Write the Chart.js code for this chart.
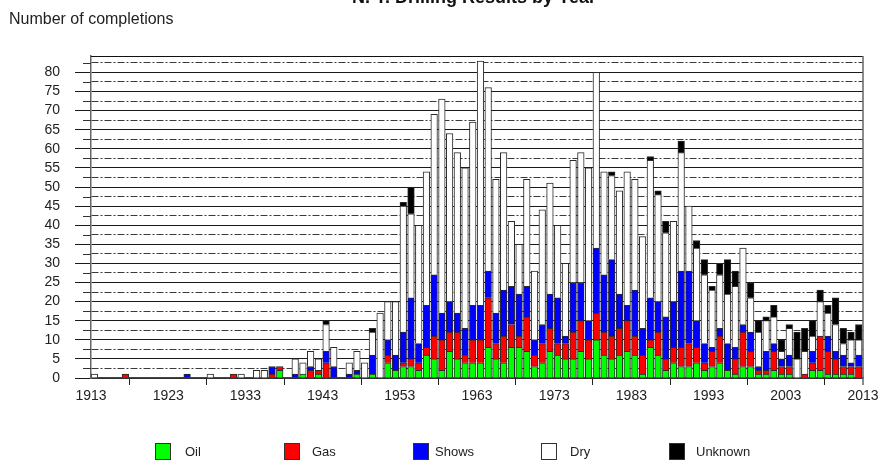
<!DOCTYPE html>
<html><head><meta charset="utf-8">
<script src="https://cdn.jsdelivr.net/npm/chart.js@4/dist/chart.umd.min.js"></script>
<style>html,body{margin:0;padding:0;background:#fff;}canvas{display:block;}</style>
</head><body>
<canvas id="c" width="885" height="469"></canvas>
<script>
const TITLE = "N. Y. Drilling Results by Year";
const Y_AXIS_TITLE = "Number of completions";
const seriesNames = ["Oil", "Gas", "Shows", "Dry", "Unknown"];
const seriesColors = ["#00ff00", "#ff0000", "#0000ff", "#ffffff", "#000000"];

const years = [1913,1917,1925,1928,1931,1932,1934,1935,1936,1937,1939,1940,1941,1942,1943,1944,1946,1947,1948,1949,1950,1951,
  1952,1953,1954,1955,1956,1957,1958,1959,1960,1961,
  1962,1963,1964,1965,1966,1967,1968,1969,1970,1971,
  1972,1973,1974,1975,1976,1977,1978,1979,1980,1981,
  1982,1983,1984,1985,1986,1987,1988,1989,1990,1991,
  1992,1993,1994,1995,1996,1997,1998,1999,2000,2001,
  2002,2003,2004,2005,2006,2007,2008,2009,2010,2011,
  2012];

const oil = [0,0,0,0,0,0,0,0,0,2,0,1,0,1,0,0,0,1,0,1,0,4,
  2,3,3,2,6,5,2,7,5,4,
  4,4,8,5,4,8,8,7,3,4,
  7,6,5,5,7,5,10,6,5,6,
  7,6,1,8,6,2,4,3,3,4,
  2,3,4,2,1,3,3,1,1,2,
  1,1,0,0,2,2,1,1,1,1,
  0];
const gas = [0,1,0,0,1,0,0,0,1,1,0,0,2,1,4,0,0,0,0,0,0,2,
  0,1,2,2,2,6,8,5,7,2,
  6,6,13,4,7,6,3,9,3,5,
  6,3,4,7,8,5,7,6,6,7,
  8,5,5,2,6,3,4,5,6,4,
  2,4,7,0,4,9,4,1,1,5,
  2,2,0,1,2,9,6,4,2,2,
  3];
const shows = [0,0,1,0,0,0,0,0,2,0,1,0,1,0,3,3,1,1,0,5,0,4,
  4,8,16,5,11,16,7,8,5,7,
  9,9,7,8,12,10,11,8,4,5,
  9,12,2,13,10,5,17,15,20,9,
  4,12,7,11,8,11,12,20,19,7,
  5,1,2,7,3,2,5,1,5,2,
  2,3,0,0,3,0,4,2,3,1,
  3];
const dry = [1,0,0,1,0,1,2,2,0,0,4,3,4,3,7,5,3,5,4,6,17,10,
  14,33,22,31,35,42,56,44,42,42,
  48,64,48,35,36,17,13,28,18,30,
  29,19,19,32,34,40,46,27,22,27,
  35,29,24,36,28,22,21,31,17,19,
  18,15,14,13,16,20,9,9,8,7,
  2,7,5,6,4,9,6,7,3,6,
  4];
const unknown = [0,0,0,0,0,0,0,0,0,0,0,0,0,0,1,0,0,0,0,1,0,0,
  0,1,7,0,0,0,0,0,0,0,
  0,0,0,0,0,0,0,0,0,0,
  0,0,0,0,0,0,0,0,1,0,
  0,0,0,1,1,3,0,3,0,2,
  4,1,3,9,4,0,4,3,1,3,
  3,1,7,6,4,3,2,7,4,2,
  4];

const xTicks = [1913,1923,1933,1943,1953,1963,1973,1983,1993,2003,2013];
const yMajorTicks = [0,5,10,15,20,25,30,35,40,45,50,55,60,65,70,75,80];
const yMinorTicks = [2.5,7.5,12.5,17.5,22.5,27.5,32.5,37.5,42.5,47.5,52.5,57.5,62.5,67.5,72.5,77.5,82.5];

const FONT = '"Liberation Sans", Arial, Helvetica, sans-serif';
const seriesValues = [oil, gas, shows, dry, unknown];
const BAR_SHIFT = 0.45; // bars sit just right of each year's tick

const datasets = seriesNames.map((name, i) => ({
  label: name,
  data: years.map((yr, j) => ({ x: yr + BAR_SHIFT, y: seriesValues[i][j] ? seriesValues[i][j] : null })),
  backgroundColor: seriesColors[i],
  borderColor: '#2a2a2a',
  borderWidth: 1,
  barThickness: 6.6,
  stack: 'all'
}));

const allY = yMajorTicks.concat(yMinorTicks).sort((a, b) => a - b);
const isMajor = v => Math.abs(v % 5) < 1e-9;

const decor = {
  id: 'decor',
  beforeDatasetsDraw(chart) {
    const { ctx, chartArea: a, scales } = chart;
    const ys = scales.y;
    ctx.save();
    // minor tick stubs
    ctx.strokeStyle = '#333';
    ctx.lineWidth = 1;
    yMinorTicks.forEach(v => {
      const p = Math.round(ys.getPixelForValue(v)) + 0.5;
      ctx.beginPath(); ctx.moveTo(a.left - 8, p); ctx.lineTo(a.left, p); ctx.stroke();
    });
    // frame top + right
    ctx.strokeStyle = '#111';
    ctx.beginPath(); ctx.moveTo(a.left, a.top + 0.5); ctx.lineTo(a.right, a.top + 0.5); ctx.stroke();
    ctx.strokeStyle = '#666';
    ctx.lineWidth = 1.5;
    ctx.beginPath(); ctx.moveTo(a.right, a.top); ctx.lineTo(a.right, a.bottom + 7); ctx.stroke();
    ctx.restore();
  },
  afterDraw(chart) {
    const { ctx } = chart;
    ctx.save();
    // title (cut off at the top of the picture)
    ctx.fillStyle = '#111';
    ctx.font = 'bold 18px ' + FONT;
    ctx.textAlign = 'center';
    ctx.textBaseline = 'alphabetic';
    ctx.fillText(TITLE, 474, 3);
    // y-axis title
    ctx.font = '16px ' + FONT;
    ctx.textAlign = 'left';
    ctx.fillStyle = '#222';
    ctx.fillText(Y_AXIS_TITLE, 9, 24);
    // legend
    const boxX = [155, 284, 413, 541, 669];
    const textX = [185, 312, 435, 570, 696];
    ctx.font = '13px ' + FONT;
    ctx.textBaseline = 'middle';
    chart.data.datasets.forEach((ds, i) => {
      ctx.fillStyle = ds.backgroundColor;
      ctx.fillRect(boxX[i], 443, 16, 17);
      ctx.strokeStyle = '#333';
      ctx.lineWidth = 1;
      ctx.strokeRect(boxX[i] + 0.5, 443.5, 15, 16);
      ctx.fillStyle = '#222';
      ctx.fillText(ds.label, textX[i], 452);
    });
    ctx.restore();
  }
};

new Chart(document.getElementById('c'), {
  type: 'bar',
  data: { datasets },
  options: {
    responsive: false,
    animation: false,
    devicePixelRatio: 1,
    layout: { padding: { left: 0, right: 22, top: 56, bottom: 0 } },
    plugins: { legend: { display: false }, title: { display: false }, tooltip: { enabled: false } },
    scales: {
      x: {
        type: 'linear', min: 1913, max: 2013, offset: false, stacked: true,
        afterBuildTicks: s => { s.ticks = xTicks.map(v => ({ value: v })); },
        afterFit: s => { s.height = 91; },
        ticks: { font: { family: FONT, size: 14 }, color: '#222', padding: 3, maxRotation: 0, autoSkip: false,
                 callback: v => String(v) },
        grid: { drawOnChartArea: false, drawTicks: true, tickLength: 7, tickColor: '#222', color: '#222' },
        border: { display: true, color: '#444', width: 1.5 }
      },
      y: {
        stacked: true, min: 0, max: 84.3,
        afterBuildTicks: s => { s.ticks = allY.map(v => ({ value: v })); },
        afterFit: s => { s.width = 91; },
        ticks: { font: { family: FONT, size: 14 }, color: '#222', padding: 15, autoSkip: false,
                 callback: v => isMajor(v) ? String(v) : '' },
        grid: {
          color: ctx => (ctx.tick && isMajor(ctx.tick.value)) ? '#1a1a1a' : '#3a3a3a',
          lineWidth: 1,
          tickLength: 16,
          tickColor: ctx => (ctx.tick && isMajor(ctx.tick.value)) ? '#1a1a1a' : 'rgba(0,0,0,0)'
        },
        border: { display: true, color: '#666', width: 1.5,
                  dash: ctx => (ctx.tick && !isMajor(ctx.tick.value)) ? [7, 2, 2, 2] : [] }
      }
    }
  },
  plugins: [decor]
});
</script>
</body></html>
